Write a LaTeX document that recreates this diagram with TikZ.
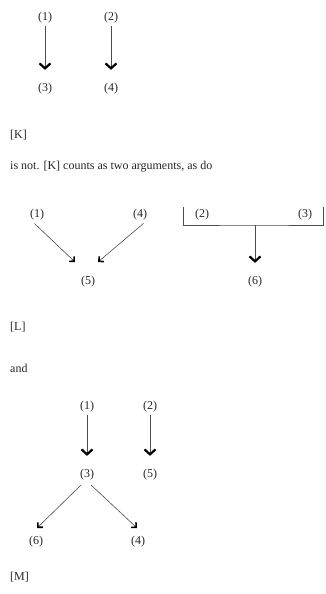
\documentclass[tikz,border=0pt]{standalone}
\usepackage{fontspec}
\setmainfont{Liberation Serif}
\usetikzlibrary{arrows.meta,positioning}

\tikzset{
  num/.style={font=\fontsize{12}{14}\selectfont, inner sep=1.5pt, text=black!85},
  prose/.style={font=\fontsize{12}{14}\selectfont, anchor=west, inner sep=0pt, text=black!85},
  down/.style={black!70, line width=0.6pt, -{Straight Barb[length=5pt, width=11pt, line width=2.2pt, black]}},
  slant/.style={black!70, line width=0.6pt, -{Straight Barb[length=3.5pt, width=7pt, line width=1.6pt, black]}},
  rail/.style={black!70, line width=0.6pt}
}

\begin{document}
\begin{tikzpicture}[x=1pt, y=-1pt]
\useasboundingbox (0,0) rectangle (325,594);

% [K]
\node[num] (k1) at (45,18) {(1)};
\node[num] (k2) at (111,18) {(2)};
\node[num] (k3) at (45,89) {(3)};
\node[num] (k4) at (111,89) {(4)};
\draw[down, shorten <=1pt, shorten >=12pt] (k1) -- (k3);
\draw[down, shorten <=1pt, shorten >=12pt] (k2) -- (k4);
\node[prose] (tagK) at (10,135) {[K]};
\node[prose] (line1) at (10,167) {is not. [K] counts as two arguments, as do};

% [L], left part
\node[num] (l1) at (37,215) {(1)};
\node[num] (l4) at (140,215) {(4)};
\node[num] (l5) at (88,282) {(5)};
\draw[slant, shorten <=2pt] ([xshift=-4pt]l1.south) -- ([shift={(-13pt,20pt)}]l5.center);
\draw[slant, shorten <=2pt] ([xshift=5pt]l4.south) -- ([shift={(10pt,20pt)}]l5.center);

% [L], right part
\node[num] (l2) at (202,215) {(2)};
\node[num] (l3) at (305,215) {(3)};
\node[num] (l6) at (255,282) {(6)};
\coordinate (railL) at (183,207);
\coordinate (railR) at (323,207);
\coordinate (join) at (255,225);
\draw[rail] (railL) |- (join) -| (railR);
\draw[down, shorten >=12pt] (join) -- (l6);
\node[prose] (tagL) at (10,327) {[L]};
\node[prose] (line2) at (10,368) {and};

% [M]
\node[num] (m1) at (87,407) {(1)};
\node[num] (m2) at (150,407) {(2)};
\node[num] (m3) at (87,475) {(3)};
\node[num] (m5) at (150,475) {(5)};
\node[num] (m6) at (36,542) {(6)};
\node[num] (m4) at (138,542) {(4)};
\draw[down, shorten <=1pt, shorten >=12pt] (m1) -- (m3);
\draw[down, shorten <=1pt, shorten >=12pt] (m2) -- (m5);
\draw[slant, shorten <=4pt] ([xshift=-3pt]m3.south) -- ([shift={(1pt,14pt)}]m6.center);
\draw[slant, shorten <=4pt] ([xshift=1pt]m3.south) -- ([shift={(-1pt,14pt)}]m4.center);
\node[prose] (tagM) at (10,577) {[M]};
\end{tikzpicture}
\end{document}
